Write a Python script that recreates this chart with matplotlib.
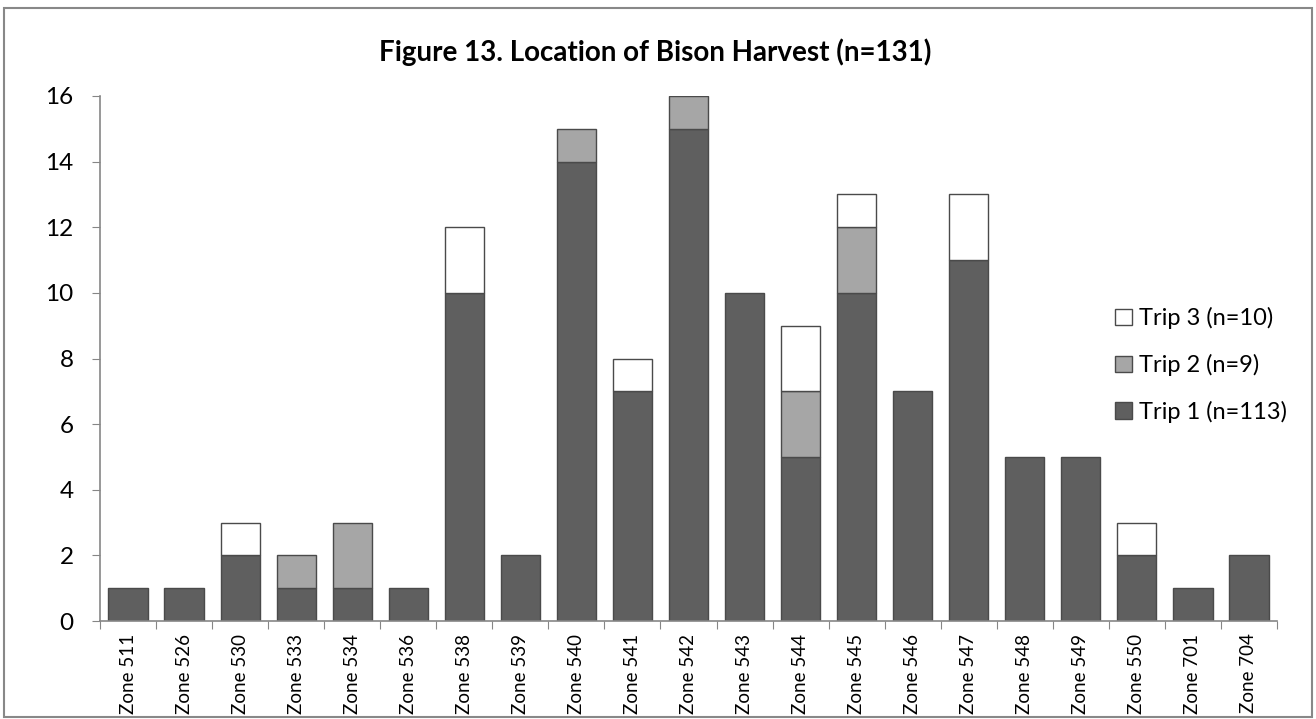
import matplotlib
matplotlib.use("Agg")
import matplotlib.pyplot as plt
from matplotlib.patches import Rectangle, Patch
import numpy as np

plt.rcParams['font.family'] = ['Lato', 'DejaVu Sans']

zones = ["Zone 511", "Zone 526", "Zone 530", "Zone 533", "Zone 534", "Zone 536",
         "Zone 538", "Zone 539", "Zone 540", "Zone 541", "Zone 542", "Zone 543",
         "Zone 544", "Zone 545", "Zone 546", "Zone 547", "Zone 548", "Zone 549",
         "Zone 550", "Zone 701", "Zone 704"]
trip1 = [1, 1, 2, 1, 1, 1, 10, 2, 14, 7, 15, 10, 5, 10, 7, 11, 5, 5, 2, 1, 2]
trip2 = [0, 0, 0, 1, 2, 0, 0, 0, 1, 0, 1, 0, 2, 2, 0, 0, 0, 0, 0, 0, 0]
trip3 = [0, 0, 1, 0, 0, 0, 2, 0, 0, 1, 0, 0, 2, 1, 0, 2, 0, 0, 1, 0, 0]
series_labels = ["Trip 1 (n=113)", "Trip 2 (n=9)", "Trip 3 (n=10)"]
title = "Figure 13. Location of Bison Harvest (n=131)"

c1, c2, c3 = "#5f5f5f", "#a6a6a6", "#ffffff"
edge = "#4a4a4a"

W, H = 1316, 719
fig = plt.figure(figsize=(W/100, H/100), dpi=100)
fig.patches.append(Rectangle((4/W, 2/H), (W-8)/W, (H-10)/H, transform=fig.transFigure,
                             fill=False, edgecolor="#888888", linewidth=1.5))

ax = fig.add_axes([100/W, 1-621/H, (1277-100)/W, (621-96)/H])
x = np.arange(len(zones))
t1 = np.array(trip1); t2 = np.array(trip2); t3 = np.array(trip3)
kw = dict(width=0.7, edgecolor=edge, linewidth=1.0)
ax.bar(x, t1, color=c1, **kw)
m2 = t2 > 0
ax.bar(x[m2], t2[m2], bottom=t1[m2], color=c2, **kw)
m3 = t3 > 0
ax.bar(x[m3], t3[m3], bottom=(t1+t2)[m3], color=c3, **kw)

ax.set_xlim(-0.5, len(zones)-0.5)
ax.set_ylim(0, 16)
ax.set_yticks(range(0, 17, 2))
ax.set_yticklabels([str(v) for v in range(0, 17, 2)], fontsize=17.5)
ax.set_xticks(np.arange(len(zones)+1) - 0.5, minor=False)
ax.set_xticklabels([])
ax.set_xticks(x, minor=True)
ax.set_xticklabels(zones, minor=True, rotation=90, fontsize=13.5)
ax.tick_params(axis='x', which='minor', length=0, pad=9)
ax.tick_params(axis='x', which='major', length=6, color="#868686", direction='out')
ax.tick_params(axis='y', length=6, color="#868686", direction='out', pad=13)
for s in ['top', 'right']:
    ax.spines[s].set_visible(False)
for s in ['left', 'bottom']:
    ax.spines[s].set_color("#868686")
    ax.spines[s].set_linewidth(1.2)

fig.text(655/W, 1-52/H, title, ha='center', va='center', fontsize=20, fontweight='bold')

handles = [Patch(facecolor=c3, edgecolor=edge, label=series_labels[2]),
           Patch(facecolor=c2, edgecolor=edge, label=series_labels[1]),
           Patch(facecolor=c1, edgecolor=edge, label=series_labels[0])]
fig.legend(handles=handles, loc='center left', bbox_to_anchor=(1115/W, 1-365/H),
           frameon=False, fontsize=17, handlelength=0.7, handleheight=0.7,
           handletextpad=0.3, labelspacing=1.05, borderaxespad=0, borderpad=0)

fig.savefig("out.png", dpi=100)
